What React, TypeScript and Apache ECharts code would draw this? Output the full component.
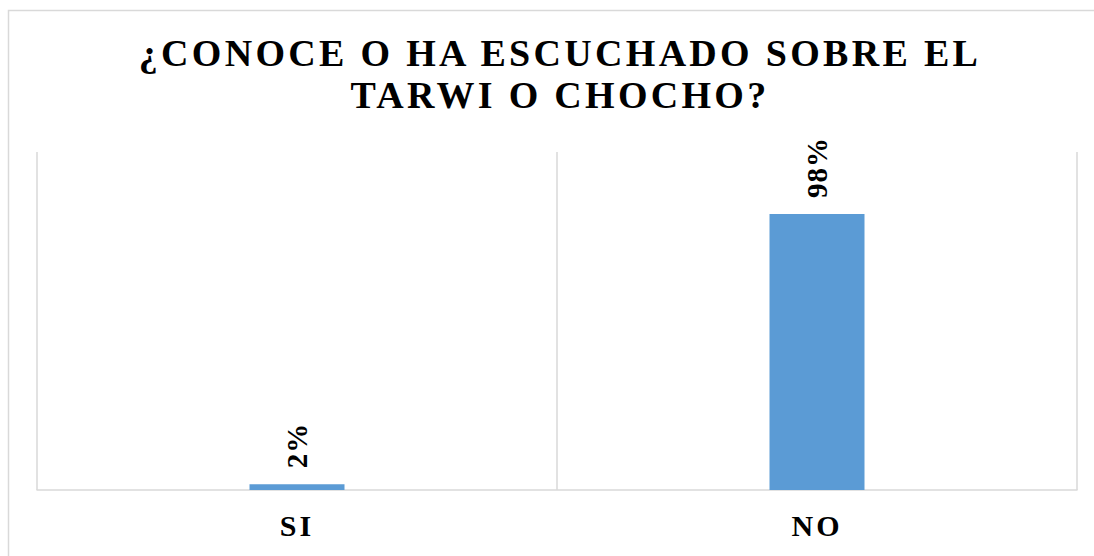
import React, { useEffect, useRef } from "react";
import * as echarts from "echarts";

const titleLines = ["¿CONOCE O HA ESCUCHADO SOBRE EL", "TARWI O CHOCHO?"];
const categories = ["SI", "NO"];
const values = [2, 98];
const valueLabels = ["2%", "98%"];

const FONT = '"Liberation Serif", "Times New Roman", serif';

export default function App() {
  const ref = useRef<HTMLDivElement>(null);

  useEffect(() => {
    if (!ref.current) return;
    const el = ref.current;
    const chart = echarts.init(el, null, { renderer: "svg" });
    chart.setOption({
      animation: false,
      backgroundColor: "#ffffff",
      title: {
        text: titleLines.join("\n"),
        left: 555,
        top: 27,
        textAlign: "center",
        textStyle: {
          fontFamily: FONT,
          fontWeight: "bold",
          fontSize: 38,
          lineHeight: 42,
          color: "#000000",
        },
      },
      graphic: [
        {
          type: "rect",
          shape: { x: 8.5, y: 10.5, width: 1100, height: 560 },
          style: { fill: "none", stroke: "#d9d9d9", lineWidth: 1.5 },
          silent: true,
        },
      ],
      grid: { left: 37, right: 17, top: 152, bottom: 66, containLabel: false },
      xAxis: {
        type: "category",
        data: categories,
        boundaryGap: true,
        axisLine: { show: true, lineStyle: { color: "#d9d9d9", width: 1.5 } },
        axisTick: { show: false },
        splitLine: { show: true, lineStyle: { color: "#d9d9d9", width: 1.5 } },
        axisLabel: {
          fontFamily: FONT,
          fontWeight: "bold",
          fontSize: 30,
          color: "#000000",
          margin: 20,
        },
      },
      yAxis: {
        type: "value",
        min: 0,
        max: 120,
        show: false,
        splitLine: { show: false },
      },
      series: [
        {
          type: "bar",
          data: values,
          barWidth: 95,
          itemStyle: { color: "#5B9BD5" },
          label: {
            show: true,
            position: "top",
            rotate: 90,
            align: "left",
            verticalAlign: "middle",
            distance: 16,
            fontFamily: FONT,
            fontWeight: "bold",
            fontSize: 29,
            color: "#000000",
            formatter: (p: any) => valueLabels[p.dataIndex],
          },
        },
      ],
    });

    const applySpacing = () => {
      el.querySelectorAll("text").forEach((t) => {
        const s = (t.textContent || "").trim();
        if (titleLines.includes(s)) t.setAttribute("letter-spacing", "3.3");
        else if (categories.includes(s)) t.setAttribute("letter-spacing", "3");
        else if (valueLabels.includes(s)) t.setAttribute("letter-spacing", "1");
      });
    };
    applySpacing();
    chart.on("finished", applySpacing);
    const raf = requestAnimationFrame(applySpacing);

    return () => {
      cancelAnimationFrame(raf);
      chart.dispose();
    };
  }, []);

  return (
    <div
      ref={ref}
      style={{ position: "fixed", left: 0, top: 0, width: 1094, height: 556 }}
    />
  );
}
